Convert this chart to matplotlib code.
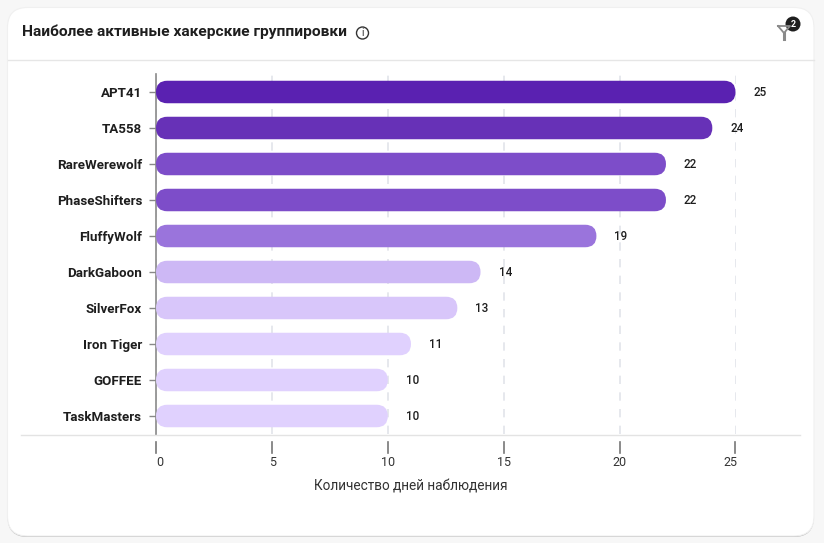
# -*- coding: utf-8 -*-
import matplotlib
matplotlib.use("Agg")
import matplotlib.pyplot as plt
from matplotlib.patches import FancyBboxPatch, Circle

groups = ["APT41", "TA558", "RareWerewolf", "PhaseShifters", "FluffyWolf",
          "DarkGaboon", "SilverFox", "Iron Tiger", "GOFFEE", "TaskMasters"]
days = [25, 24, 22, 22, 19, 14, 13, 11, 10, 10]
colors = ["#5A21B1", "#6731B7", "#7D4DC9", "#7D4DC9", "#9A74DC",
          "#CDB8F5", "#D8C6FA", "#E0D1FE", "#E0D1FE", "#E0D1FE"]
x_ticks = [0, 5, 10, 15, 20, 25]
title = "Наиболее активные хакерские группировки"
x_label = "Количество дней наблюдения"

W, H = 824, 543
plt.rcParams['font.family'] = ['Roboto', 'DejaVu Sans']
fig = plt.figure(figsize=(W / 100, H / 100), dpi=100, facecolor="#F7F7F7")

#* card background, drawn in pixel coordinates
bg = fig.add_axes([0, 0, 1, 1])
bg.set_xlim(0, W)
bg.set_ylim(H, 0)
bg.axis("off")
bg.add_patch(FancyBboxPatch((7.5, 8.5), 806.5, 528.5, boxstyle="round,pad=0,rounding_size=20",
                            fc="#B8B8B8", ec="none"))
bg.add_patch(FancyBboxPatch((7.5, 7.5), 806.5, 528.5, boxstyle="round,pad=0,rounding_size=20",
                            fc="white", ec="#F0F0F0", lw=0.8))
bg.plot([8, 814], [59.5, 59.5], color="#E6E6E6", lw=1)
bg.plot([21, 800], [434.5, 434.5], color="#E3E3E3", lw=1)
bg.text(22, 32, title, fontsize=11.15, fontweight="bold", color="#1E1E1E", va="center")

#* info icon
bg.add_patch(Circle((362.5, 33), 6, fc="white", ec="#333333", lw=1))
bg.text(362.5, 33.2, "i", fontsize=7.5, color="#333333", ha="center", va="center")

#* filter icon with badge
bg.plot([778, 790, 784, 778], [26, 26, 33, 26], color="#8A8A8A", lw=1.3)
bg.plot([784, 784], [33, 39], color="#8A8A8A", lw=2.2)
bg.add_patch(Circle((793, 24), 7.5, fc="#1E1E1E", ec="none"))
bg.text(793, 24.5, "2", fontsize=6.5, fontweight="bold", color="white", ha="center", va="center")

#* chart
left, right, top, bottom = 156, 735.5, 74, 434
ax = fig.add_axes([left / W, 1 - bottom / H, (right - left) / W, (bottom - top) / H])
ax.patch.set_alpha(0)
ax.set_xlim(0, 25)
ax.set_ylim(len(groups) - 0.5, -0.5)
for s in ["top", "right", "bottom"]:
    ax.spines[s].set_visible(False)
ax.spines["left"].set_color("#8A8A8A")
ax.spines["left"].set_linewidth(1.2)

ax.set_axisbelow(True)
ax.xaxis.grid(True, color="#E2E4EA", lw=1.2, ls=(0, (5, 5)))
ax.set_xticks(x_ticks)
ax.set_xticklabels([])
ax.tick_params(axis="x", length=0)
ax.set_yticks(range(len(groups)))
ax.set_yticklabels(groups, fontsize=9.6, fontweight="bold", color="#1E1E1E")
ax.tick_params(axis="y", length=5, width=1, color="#888888", pad=5)

bar_h = 22.5 / 36
radius = 11.2 / ((right - left) / 25)
aspect = ((right - left) / 25) / 36
for i, (v, c) in enumerate(zip(days, colors)):
    ax.add_patch(FancyBboxPatch((0, i - bar_h / 2), v, bar_h,
                                boxstyle="round,pad=0,rounding_size=%f" % radius,
                                mutation_aspect=aspect, fc=c, ec="none", zorder=3))
    ax.annotate(str(v), (v, i), xytext=(18, -0.5), textcoords="offset pixels",
                fontsize=8.4, fontweight="medium", color="#1E1E1E", va="center", zorder=4)

#* ticks sit below the divider, labels are shifted slightly right
for t in x_ticks:
    px = left + t * (right - left) / 25
    bg.plot([px, px], [442, 453], color="#777777", lw=1.2)
for t, dx in zip(x_ticks, [4, 1, 0, 0, 0, -5]):
    px = left + t * (right - left) / 25
    bg.text(px + dx, 462, str(t), fontsize=9, color="#333333", ha="center", va="center")
bg.text(410.5, 486.5, x_label, fontsize=9.8, color="#333333", ha="center", va="center")

fig.savefig("out.png", dpi=100, facecolor=fig.get_facecolor())
